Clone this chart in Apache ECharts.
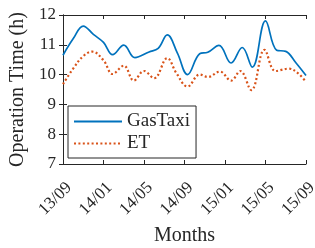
<!DOCTYPE html>
<html>
<head>
<meta charset="utf-8">
<script src="https://cdn.jsdelivr.net/npm/echarts@6/dist/echarts.min.js"></script>
<style>
  html, body { margin: 0; padding: 0; background: #fff; }
  #chart { width: 315px; height: 248px; }
</style>
</head>
<body>
<div id="chart"></div>
<script>
// x = months since 13/09
const tickLabels = ["13/09", "14/01", "14/05", "14/09", "15/01", "15/05", "15/09"];
const gasX = [0, 1, 2, 3, 4, 4.9, 6.0, 7.1, 8.5, 9.4, 10.3, 11.3, 12.3, 13.5, 14.3, 15.4, 16.6, 17.7, 18.7, 20.0, 21.1, 22.0, 23.0, 24];
const gasY = [10.65, 11.2, 11.63, 11.35, 11.08, 10.67, 10.99, 10.57, 10.76, 10.88, 11.33, 10.72, 10.0, 10.7, 10.75, 10.98, 10.39, 10.91, 10.25, 11.8, 10.82, 10.78, 10.4, 9.97];
const etX = [0, 1, 2, 2.9, 4, 4.9, 6.0, 7.0, 8.0, 9.0, 10.3, 11.2, 12.3, 13.5, 14.3, 15.5, 16.6, 17.5, 18.6, 19.9, 21.0, 22.3, 23.2, 24];
const etY = [9.68, 10.2, 10.62, 10.77, 10.48, 10.02, 10.3, 9.8, 10.12, 9.88, 10.55, 10.05, 9.6, 10.0, 9.92, 10.1, 9.8, 10.12, 9.48, 10.83, 10.12, 10.2, 10.05, 9.75];

const font = "Liberation Serif";
const ink = "#262626";

const chart = echarts.init(document.getElementById("chart"));
chart.setOption({
  animation: false,
  textStyle: { fontFamily: font, color: ink },
  grid: { left: 63, right: 9, top: 15, bottom: 84, outerBoundsMode: "none" },
  legend: {
    orient: "vertical",
    left: 68,
    top: 106,
    padding: [6, 6, 5, 5],
    itemWidth: 48,
    itemHeight: 14,
    itemGap: 3,
    borderColor: ink,
    borderWidth: 1,
    backgroundColor: "#fff",
    itemStyle: { opacity: 0 },
    textStyle: { fontFamily: font, fontSize: 19, color: ink },
    data: ["GasTaxi", "ET"]
  },
  xAxis: [
    {
      type: "value", min: 0, max: 24, interval: 4,
      name: "Months", nameLocation: "middle", nameGap: 61,
      nameTextStyle: { fontFamily: font, fontSize: 20, color: ink },
      axisLine: { lineStyle: { color: ink } },
      axisTick: { inside: true, length: 4, lineStyle: { color: ink } },
      axisLabel: {
        rotate: 45, margin: 15, fontSize: 17, color: ink, fontFamily: font,
        verticalAlign: "top",
        formatter: v => tickLabels[v / 4]
      },
      splitLine: { show: false }
    },
    {
      type: "value", min: 0, max: 24, interval: 4, position: "top",
      axisLine: { lineStyle: { color: ink } },
      axisTick: { inside: true, length: 4, lineStyle: { color: ink } },
      axisLabel: { show: false },
      splitLine: { show: false }
    }
  ],
  yAxis: [
    {
      type: "value", min: 7, max: 12, interval: 1,
      name: "Operation Time (h)", nameLocation: "middle", nameGap: 30,
      nameTextStyle: { fontFamily: font, fontSize: 20, color: ink },
      axisLine: { show: true, lineStyle: { color: ink } },
      axisTick: { show: true, inside: true, length: 4, lineStyle: { color: ink } },
      axisLabel: { margin: 7, fontSize: 17, color: ink, fontFamily: font },
      splitLine: { show: false }
    },
    {
      type: "value", min: 7, max: 12, interval: 1, position: "right",
      axisLine: { show: true, lineStyle: { color: ink } },
      axisTick: { show: true, inside: true, length: 4, lineStyle: { color: ink } },
      axisLabel: { show: false },
      splitLine: { show: false }
    }
  ],
  series: [
    {
      name: "GasTaxi", type: "line", smooth: 0.4,
      symbol: "none",
      lineStyle: { color: "#0072BD", width: 1.7 },
      itemStyle: { color: "#0072BD" },
      data: gasX.map((x, i) => [x, gasY[i]])
    },
    {
      name: "ET", type: "line", smooth: 0.4,
      symbol: "none",
      lineStyle: { color: "#D95319", width: 2.2, type: [2, 2.4] },
      itemStyle: { color: "#D95319" },
      data: etX.map((x, i) => [x, etY[i]])
    }
  ]
});
</script>
</body>
</html>
